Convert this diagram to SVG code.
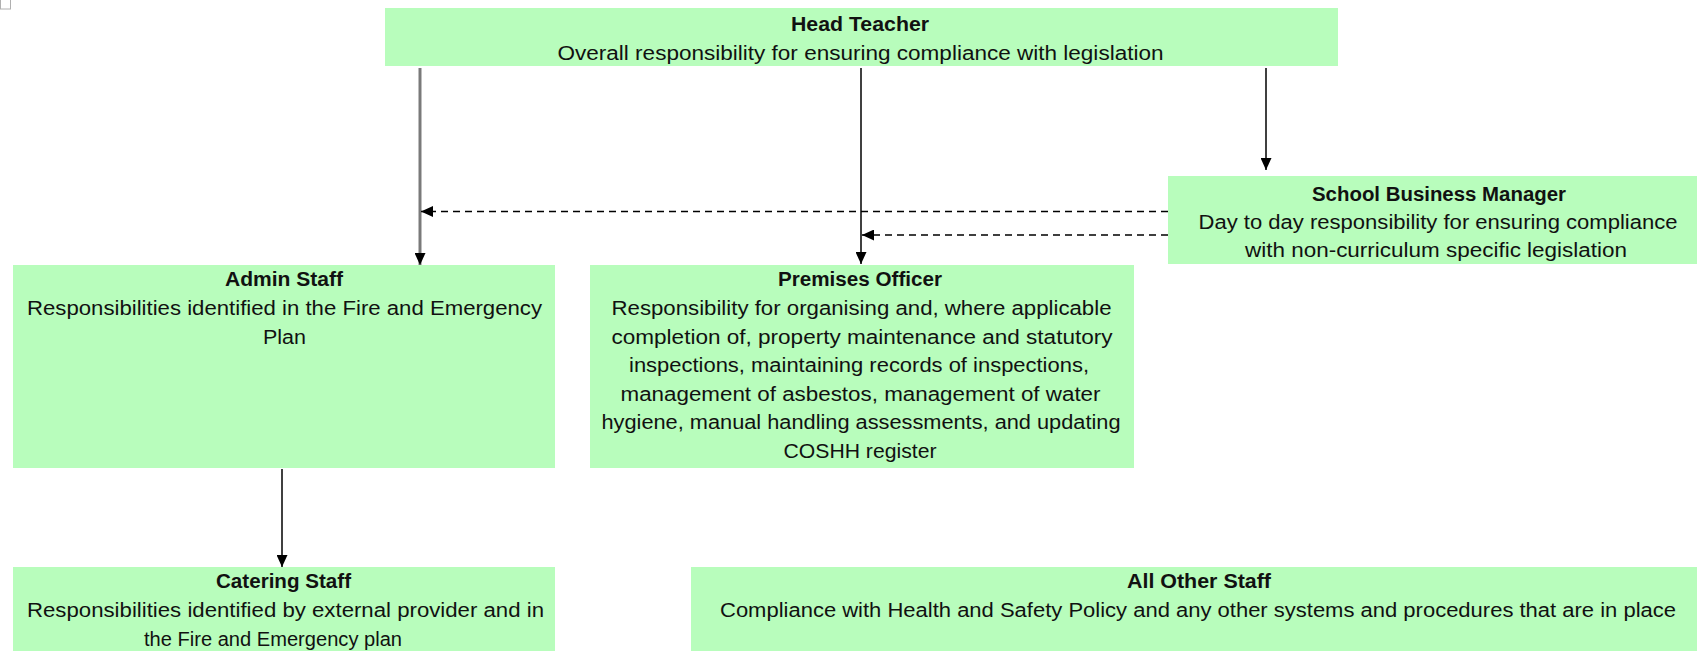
<svg xmlns="http://www.w3.org/2000/svg" width="1697" height="651" viewBox="0 0 1697 651">
  <style>
    .box { fill: #b8fdbc; stroke: none; }
    text { font-family: "Liberation Sans", Arial, sans-serif; font-size: 20px; fill: #111111; text-anchor: middle; }
    .t { font-weight: bold; }
    .ln { stroke: #000000; stroke-width: 1.5; fill: none; }
    .gray { stroke: #7a7a7a; stroke-width: 3; fill: none; }
    .dash { stroke: #000000; stroke-width: 1.5; fill: none; stroke-dasharray: 7 5; }
  </style>
  <defs>
    <marker id="ah" viewBox="0 0 12 11" refX="12" refY="5.5" markerWidth="12" markerHeight="11" markerUnits="userSpaceOnUse" orient="auto">
      <path d="M0,0 L12,5.5 L0,11 z" fill="#000000"/>
    </marker>
  </defs>
  <rect width="1697" height="651" fill="#ffffff"/>
  <g id="icon">
    <rect x="0.5" y="-1" width="10" height="10" fill="#ffffff" stroke="#b0b0b0" stroke-width="1"/>
  </g>

  <g id="head-teacher">
    <rect class="box" x="385" y="8" width="953" height="58"/>
    <text class="t" x="860" y="30.5" textLength="138" lengthAdjust="spacingAndGlyphs">Head Teacher</text>
    <text x="860.5" y="60" textLength="606" lengthAdjust="spacingAndGlyphs">Overall responsibility for ensuring compliance with legislation</text>
  </g>

  <g id="school-business-manager">
    <rect class="box" x="1168" y="176" width="529" height="88"/>
    <text class="t" x="1439" y="201" textLength="254" lengthAdjust="spacingAndGlyphs">School Business Manager</text>
    <text x="1438" y="229" textLength="479" lengthAdjust="spacingAndGlyphs">Day to day responsibility for ensuring compliance</text>
    <text x="1436" y="257" textLength="382" lengthAdjust="spacingAndGlyphs">with non-curriculum specific legislation</text>
  </g>

  <g id="admin-staff">
    <rect class="box" x="13" y="265" width="542" height="203"/>
    <text class="t" x="284" y="286" textLength="118" lengthAdjust="spacingAndGlyphs">Admin Staff</text>
    <text x="284.5" y="315" textLength="515" lengthAdjust="spacingAndGlyphs">Responsibilities identified in the Fire and Emergency</text>
    <text x="284.5" y="343.5" textLength="43" lengthAdjust="spacingAndGlyphs">Plan</text>
  </g>

  <g id="premises-officer">
    <rect class="box" x="590" y="265" width="544" height="203"/>
    <text class="t" x="860" y="286" textLength="164" lengthAdjust="spacingAndGlyphs">Premises Officer</text>
    <text x="861.5" y="315" textLength="500" lengthAdjust="spacingAndGlyphs">Responsibility for organising and, where applicable</text>
    <text x="862" y="343.5" textLength="501" lengthAdjust="spacingAndGlyphs">completion of, property maintenance and statutory</text>
    <text x="859" y="372" textLength="460" lengthAdjust="spacingAndGlyphs">inspections, maintaining records of inspections,</text>
    <text x="860.5" y="400.5" textLength="480" lengthAdjust="spacingAndGlyphs">management of asbestos, management of water</text>
    <text x="861" y="429" textLength="519" lengthAdjust="spacingAndGlyphs">hygiene, manual handling assessments, and updating</text>
    <text x="860" y="457.5" textLength="153" lengthAdjust="spacingAndGlyphs">COSHH register</text>
  </g>

  <g id="catering-staff">
    <rect class="box" x="13" y="567" width="542" height="84"/>
    <text class="t" x="283.5" y="588" textLength="135" lengthAdjust="spacingAndGlyphs">Catering Staff</text>
    <text x="285.5" y="617" textLength="517" lengthAdjust="spacingAndGlyphs">Responsibilities identified by external provider and in</text>
    <text x="273" y="645.5" textLength="258" lengthAdjust="spacingAndGlyphs">the Fire and Emergency plan</text>
  </g>

  <g id="all-other-staff">
    <rect class="box" x="691" y="567" width="1006" height="84"/>
    <text class="t" x="1199" y="588" textLength="144" lengthAdjust="spacingAndGlyphs">All Other Staff</text>
    <text x="1198" y="617" textLength="956" lengthAdjust="spacingAndGlyphs">Compliance with Health and Safety Policy and any other systems and procedures that are in place</text>
  </g>

  <g id="connectors">
    <line class="gray" x1="420" y1="68" x2="420" y2="265" marker-end="url(#ah)"/>
    <line class="ln" x1="861" y1="68" x2="861" y2="264" marker-end="url(#ah)"/>
    <line class="ln" x1="1266" y1="68" x2="1266" y2="170" marker-end="url(#ah)"/>
    <line class="dash" x1="1168" y1="211.5" x2="421" y2="211.5" marker-end="url(#ah)"/>
    <line class="dash" x1="1168" y1="235" x2="862" y2="235" marker-end="url(#ah)"/>
    <line class="ln" x1="282" y1="469" x2="282" y2="567" marker-end="url(#ah)"/>
  </g>
</svg>
